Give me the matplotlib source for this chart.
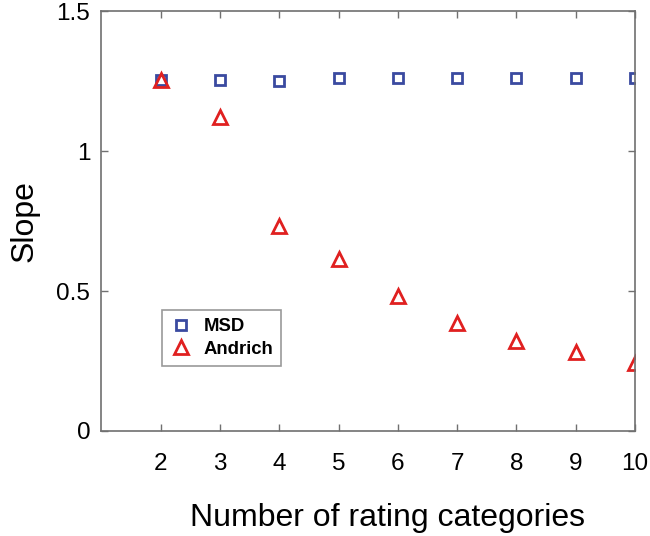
import matplotlib
matplotlib.use("Agg")
import matplotlib.pyplot as plt

plt.rcParams['font.family'] = ['Liberation Sans', 'DejaVu Sans']

categories = [2, 3, 4, 5, 6, 7, 8, 9, 10]
msd = [1.255, 1.255, 1.25, 1.26, 1.26, 1.26, 1.26, 1.26, 1.26]
andrich = [1.255, 1.121, 0.732, 0.614, 0.482, 0.387, 0.322, 0.281, 0.242]

fig = plt.figure(figsize=(6.5, 5.36), dpi=100)
ax = fig.add_axes([0.156, 0.196, 0.821, 0.783])

ax.plot(categories, msd, linestyle='none', marker='s', markersize=7.5,
        markerfacecolor='none', markeredgecolor='#3a4aa0', markeredgewidth=2,
        label='MSD')
ax.plot(categories, andrich, linestyle='none', marker='^', markersize=10,
        markerfacecolor='none', markeredgecolor='#e02020', markeredgewidth=2,
        label='Andrich')

ax.set_xlim(1, 10)
ax.set_ylim(0, 1.5)
ax.set_xticks(categories)
ax.set_yticks([0, 0.5, 1, 1.5])
ax.set_yticklabels(['0', '0.5', '1', '1.5'])

for s in ax.spines.values():
    s.set_color('#707070')
    s.set_linewidth(1.2)
ax.tick_params(direction='in', top=True, right=True, length=5, width=1,
               color='#707070', labelsize=17.5)
ax.tick_params(axis='x', pad=16)
ax.tick_params(axis='y', pad=8)

ax.set_xlabel('Number of rating categories', fontsize=23, labelpad=20)
ax.xaxis.label.set_x(0.537)
ax.set_ylabel('Slope', fontsize=23, labelpad=12)

leg = ax.legend(loc='upper left', bbox_to_anchor=(0.113, 0.288), fancybox=False,
                prop={'weight': 'bold', 'size': 13.3}, handletextpad=0.6,
                borderpad=0.45, labelspacing=0.3, handlelength=1.2,
                borderaxespad=0)
leg.get_frame().set_edgecolor('#808080')
leg.get_frame().set_linewidth(1.2)

fig.savefig('out.png', dpi=100)
